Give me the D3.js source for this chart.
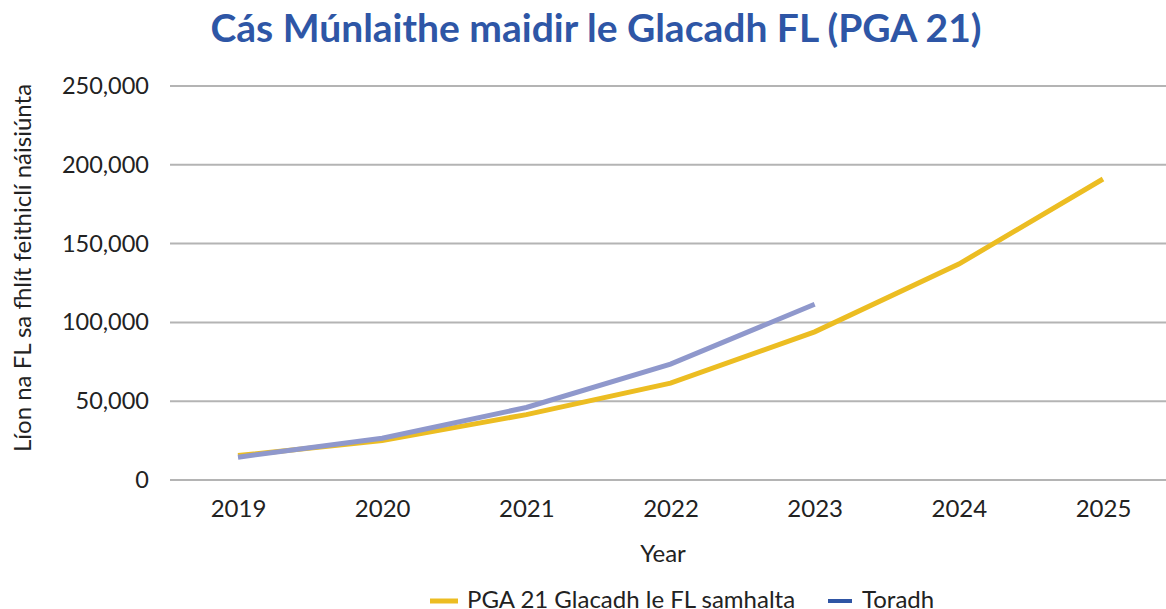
<!DOCTYPE html>
<html>
<head>
<meta charset="utf-8">
<script src="https://cdn.jsdelivr.net/npm/d3@7"></script>
<style>
  body { margin: 0; background: #fff; }
  text { font-family: Lato, "Open Sans", sans-serif; }
</style>
</head>
<body>
<div id="chart"></div>
<script>
// chart values
var years = ["2019", "2020", "2021", "2022", "2023", "2024", "2025"];
var modelled = [15500, 25000, 41500, 61500, 94000, 137000, 191000];
var actual = [14500, 26500, 46000, 73500, 111500];
var yTicks = [0, 50000, 100000, 150000, 200000, 250000];
var seriesNames = ["PGA 21 Glacadh le FL samhalta", "Toradh"];

var W = 1166, H = 609;
var svg = d3.select("#chart").append("svg")
  .attr("width", W).attr("height", H);

// scales
var x = d3.scalePoint().domain(years).range([238, 1103]);
var y = d3.scaleLinear().domain([0, 250000]).range([480, 86]);

// title
svg.append("text")
  .attr("x", 596).attr("y", 42)
  .attr("text-anchor", "middle")
  .attr("font-size", 39).attr("font-weight", "bold")
  .attr("fill", "#2e56a6")
  .text("Cás Múnlaithe maidir le Glacadh FL (PGA 21)");

// gridlines
svg.append("g").selectAll("line")
  .data(yTicks).enter().append("line")
  .attr("x1", 170).attr("x2", W)
  .attr("y1", function(d) { return y(d); })
  .attr("y2", function(d) { return y(d); })
  .attr("stroke", "#b4b4b4").attr("stroke-width", 2);

// y axis
var yAxis = d3.axisLeft(y).tickValues(yTicks).tickSize(0).tickPadding(0)
  .tickFormat(d3.format(","));
svg.append("g")
  .attr("transform", "translate(149,0)")
  .call(yAxis)
  .call(function(g) { g.select(".domain").remove(); })
  .selectAll("text")
  .attr("font-size", 23.5).attr("fill", "#222")
  .attr("font-family", "Lato, sans-serif");

// x axis
var xAxis = d3.axisBottom(x).tickSize(0).tickPadding(0);
svg.append("g")
  .attr("transform", "translate(0,500)")
  .call(xAxis)
  .call(function(g) { g.select(".domain").remove(); })
  .selectAll("text")
  .attr("font-size", 24).attr("fill", "#222")
  .attr("font-family", "Lato, sans-serif");

// axis titles
svg.append("text")
  .attr("transform", "translate(31,268) rotate(-90)")
  .attr("text-anchor", "middle")
  .attr("font-size", 24).attr("fill", "#222")
  .text("Líon na FL sa fhlít feithiclí náisiúnta");

svg.append("text")
  .attr("x", 663).attr("y", 562)
  .attr("text-anchor", "middle")
  .attr("font-size", 24).attr("fill", "#222")
  .text("Year");

// lines
var line = d3.line()
  .x(function(d, i) { return x(years[i]); })
  .y(function(d) { return y(d); });

svg.append("path")
  .datum(modelled)
  .attr("d", line)
  .attr("fill", "none")
  .attr("stroke", "#ecbd22").attr("stroke-width", 5);

svg.append("path")
  .datum(actual)
  .attr("d", line)
  .attr("fill", "none")
  .attr("stroke", "#8f98cc").attr("stroke-width", 5);

// legend
var legend = [
  { name: seriesNames[0], color: "#ecbd22", x: 430, w: 28, tx: 37 },
  { name: seriesNames[1], color: "#2f55a4", x: 828, w: 24, tx: 34 }
];
var lg = svg.append("g").selectAll("g")
  .data(legend).enter().append("g")
  .attr("transform", function(d) { return "translate(" + d.x + ",601)"; });
lg.append("line")
  .attr("x1", 0).attr("x2", function(d) { return d.w; })
  .attr("stroke", function(d) { return d.color; })
  .attr("stroke-width", function(d, i) { return i == 0 ? 5 : 4; });
lg.append("text")
  .attr("x", function(d) { return d.tx; })
  .attr("y", 7)
  .attr("font-size", 24).attr("fill", "#222")
  .text(function(d) { return d.name; });
</script>
</body>
</html>
